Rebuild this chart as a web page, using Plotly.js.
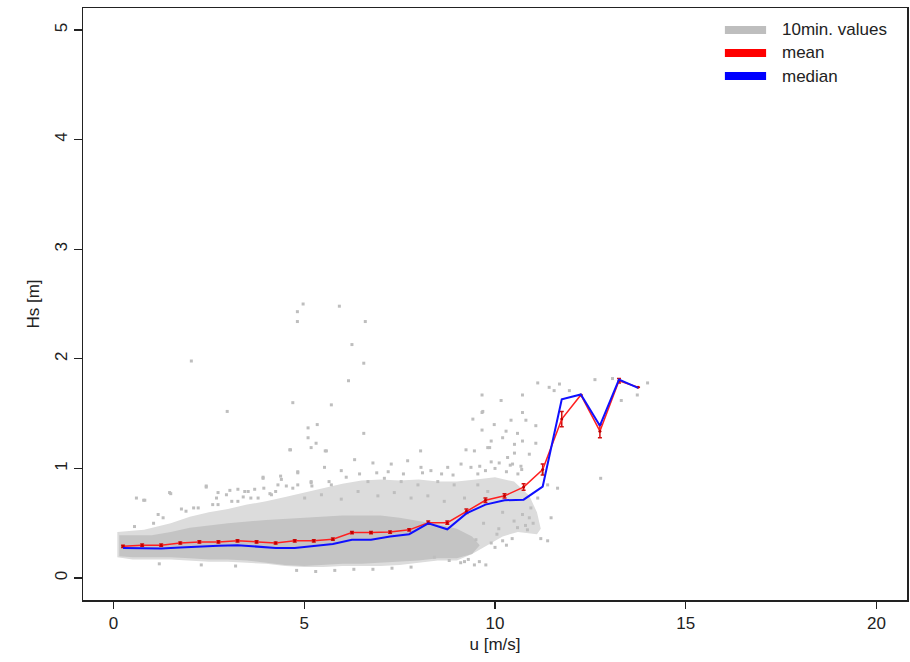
<!DOCTYPE html>
<html>
<head>
<meta charset="utf-8">
<script src="https://cdn.plot.ly/plotly-3.0.1.min.js"></script>
<style>html,body{margin:0;padding:0;background:#fff;}#chart{width:910px;height:662px;}</style>
</head>
<body>
<div id="chart"></div>
<script>
// Bin centres of wind speed (m/s)
const binU = [0.25,0.75,1.25,1.75,2.25,2.75,3.25,3.75,4.25,4.75,5.25,5.75,6.25,6.75,7.25,7.75,8.25,8.75,9.25,9.75,10.25,10.75,11.25,11.75,12.25,12.75,13.25,13.75];
// Mean Hs per bin and its error
const meanHs = [0.29,0.30,0.30,0.32,0.33,0.33,0.34,0.33,0.32,0.34,0.34,0.355,0.415,0.415,0.42,0.44,0.505,0.505,0.61,0.71,0.75,0.83,0.99,1.45,1.67,1.34,1.80,1.74];
const meanErr = [0.01,0.01,0.01,0.01,0.01,0.01,0.01,0.01,0.01,0.01,0.01,0.01,0.01,0.01,0.01,0.01,0.015,0.015,0.02,0.02,0.02,0.03,0.05,0.07,0.0,0.06,0.02,0.0];
// Median Hs per bin
const medianHs = [0.275,0.275,0.27,0.28,0.29,0.295,0.30,0.29,0.275,0.275,0.29,0.31,0.35,0.35,0.38,0.40,0.50,0.445,0.59,0.67,0.71,0.715,0.835,1.63,1.675,1.39,1.81,1.735];

// Dense core of the 10-min cloud (outline, u / Hs)
const coreU  = [0.15,1.0,1.5,2.0,3.0,4.0,5.0,6.0,7.0,7.5,8.0,8.5,9.0,9.4,9.6,9.4,9.0,8.5,8.0,7.5,7.0,6.5,6.0,5.5,5.0,4.5,4.0,3.5,3.0,2.5,2.0,1.5,1.0,0.5,0.15];
const coreHs = [0.39,0.39,0.42,0.46,0.50,0.53,0.55,0.57,0.57,0.55,0.52,0.49,0.45,0.38,0.30,0.22,0.18,0.18,0.16,0.15,0.14,0.13,0.13,0.12,0.11,0.12,0.14,0.16,0.17,0.17,0.18,0.19,0.19,0.19,0.20];
// Less dense part of the cloud (outline)
const midU  = [0.1,0.8,1.5,2.0,2.5,3.0,3.5,4.0,4.5,5.0,5.5,6.0,6.5,7.0,7.5,8.0,8.5,9.0,9.5,10.0,10.5,10.9,11.1,11.2,11.1,10.6,10.2,9.8,9.4,9.0,8.5,8.0,7.5,7.0,6.5,6.0,5.5,5.0,4.5,4.0,3.5,3.0,2.5,2.0,1.5,1.0,0.5,0.1];
const midHs = [0.42,0.44,0.50,0.56,0.60,0.63,0.67,0.70,0.74,0.78,0.82,0.86,0.89,0.90,0.89,0.90,0.88,0.88,0.90,0.92,0.88,0.75,0.60,0.45,0.40,0.42,0.38,0.30,0.22,0.16,0.16,0.14,0.12,0.11,0.11,0.11,0.10,0.10,0.11,0.13,0.14,0.15,0.15,0.16,0.17,0.17,0.17,0.19];
// Scattered individual 10-min values
const ptU  = [4.97,4.82,4.82,5.92,6.60,6.25,6.56,6.16,4.70,5.71,5.10,5.34,5.10,5.31,6.56,5.55,8.05,9.66,9.66,9.42,9.66,9.24,2.04,2.98,5.18,5.58,4.64,9.98,9.86,
  2.43,1.50,0.79,0.60,3.92,4.31,4.38,4.83,5.18,3.94,3.53,2.96,2.70,3.26,
  11.12,11.42,11.69,11.55,11.95,12.62,13.08,13.31,13.73,14.0,12.77,10.16,10.72,10.72,9.68,10.42,10.81,11.07,10.29,10.59,10.20,9.90,10.72,10.51,11.07,9.46,9.81,10.51,10.90,10.33,10.11,10.46,10.68,11.25,11.38,11.12,11.47,11.20,11.38,11.64,10.94,10.72,10.59,10.20,9.90,9.59,9.76,
  6.32,6.80,7.28,7.71,8.06,8.32,8.76,9.11,9.37,5.97,5.53,5.18,4.83,5.71,6.67,7.10,7.54,7.98,8.50,8.93,9.55,5.45,6.41,6.93,7.36,7.80,8.24,8.67,9.20,5.01,5.97,9.81,
  8.41,8.80,9.20,9.46,1.47,0.82,2.43,4.62,3.92,2.74,3.05,3.44,3.70,4.40,4.83,4.53,1.78,2.22,1.17,2.74,3.26,3.79,4.14,
  9.55,9.75,10.0,10.3,10.6,9.6,9.9,10.4,10.7,9.7,10.1,10.5,10.9,10.3,10.0,9.5,10.8,10.2,
  0.55,1.05,1.30,1.90,2.10,2.60,3.10,3.40,3.60,4.10,4.25,4.70,5.20,5.65,6.10,6.45,6.90,7.20,7.60,8.10,8.60,8.90,
  4.8,5.3,5.8,6.3,6.8,7.3,7.8,1.2,2.3,3.2,10.05,10.45,10.85,11.0,9.3,9.1];
const ptHs = [2.50,2.43,2.34,2.48,2.34,2.13,1.96,1.80,1.60,1.58,1.37,1.40,1.28,1.23,1.32,1.16,1.16,1.67,1.51,1.45,1.35,1.17,1.98,1.52,1.19,1.16,1.17,1.40,1.19,
  0.84,0.77,0.71,0.73,0.92,0.85,0.93,0.97,0.87,0.82,0.79,0.76,0.73,0.81,
  1.78,1.74,1.77,1.71,1.71,1.81,1.82,1.62,1.67,1.78,0.91,1.62,1.67,1.51,1.52,1.44,1.44,1.39,1.34,1.32,1.28,1.25,1.25,1.22,1.23,1.16,1.19,1.14,1.13,1.10,1.05,1.04,1.02,0.96,0.85,0.73,0.55,0.36,0.34,0.82,0.64,0.58,0.46,0.34,0.32,0.15,0.12,
  1.08,1.05,1.04,1.07,1.01,0.98,1.01,1.04,1.01,0.98,1.01,0.88,0.85,0.85,0.88,0.91,0.88,0.85,0.88,0.85,0.85,0.76,0.79,0.75,0.78,0.73,0.75,0.70,0.73,0.73,0.72,0.79,
  0.19,0.16,0.15,0.12,0.78,0.71,0.83,1.17,0.91,0.78,0.80,0.79,0.81,0.90,0.96,0.84,0.63,0.64,0.58,0.67,0.70,0.73,0.76,
  0.95,0.98,1.00,0.97,0.95,1.02,1.06,1.03,0.99,0.50,0.45,0.52,0.55,0.30,0.28,0.35,0.48,0.60,
  0.47,0.50,0.55,0.61,0.64,0.67,0.70,0.74,0.73,0.77,0.79,0.82,0.84,0.88,0.92,0.95,0.96,0.97,0.95,0.96,0.95,0.94,
  0.07,0.06,0.07,0.08,0.08,0.09,0.10,0.13,0.12,0.11,0.40,0.36,0.44,0.50,0.17,0.14];

const legendLabels = ["10min. values","mean","median"];
const legendColors = ["#bebebe","#ff0000","#0000ff"];

const traces = [
  {x: midU, y: midHs, type:"scatter", mode:"lines", fill:"toself", fillcolor:"#dcdcdc", line:{width:0}, hoverinfo:"skip", showlegend:false},
  {x: coreU, y: coreHs, type:"scatter", mode:"lines", fill:"toself", fillcolor:"#c4c4c4", line:{width:0}, hoverinfo:"skip", showlegend:false},
  {x: ptU, y: ptHs, type:"scatter", mode:"markers", marker:{symbol:"square", size:3, color:"#bebebe"}, showlegend:false},
  {x: binU, y: meanHs, type:"scatter", mode:"lines+markers", line:{color:"#ff2020", width:1.5}, marker:{size:3, color:"#c00000"},
   error_y:{type:"data", array: meanErr, visible:true, color:"#d01010", thickness:1.5, width:2}, showlegend:false},
  {x: binU, y: medianHs, type:"scatter", mode:"lines", line:{color:"#1010ff", width:2}, showlegend:false}
];

const shapes = [];
const annotations = [];
const legY = [0.963, 0.924, 0.885];
for (let i = 0; i < legendLabels.length; i++) {
  shapes.push({type:"line", xref:"paper", yref:"paper", x0:0.779, x1:0.829, y0:legY[i], y1:legY[i], line:{color:legendColors[i], width:8}});
  annotations.push({xref:"paper", yref:"paper", x:0.846, y:legY[i], xanchor:"left", yanchor:"middle", text:legendLabels[i], showarrow:false,
    font:{family:"Liberation Sans, Arial, sans-serif", size:17, color:"#222"}});
}

const fontFam = "Liberation Sans, Arial, sans-serif";
const layout = {
  width:910, height:662,
  margin:{l:83, r:3, t:8, b:62},
  paper_bgcolor:"#fff", plot_bgcolor:"#fff",
  showlegend:false,
  font:{family:fontFam, size:17, color:"#222"},
  xaxis:{range:[-0.8,20.8], tickvals:[0,5,10,15,20], ticks:"outside", ticklen:7, tickcolor:"#222", tickwidth:1.2,
    showline:true, linecolor:"#222", linewidth:1.5, mirror:true, showgrid:false, zeroline:false,
    tickfont:{family:fontFam, size:17, color:"#222"},
    title:{text:"u [m/s]", font:{family:fontFam, size:17, color:"#222"}, standoff:6}},
  yaxis:{range:[-0.2,5.2], tickvals:[0,1,2,3,4,5], ticks:"outside", ticklen:8, tickcolor:"#222", tickwidth:1.2, tickangle:-90,
    showline:true, linecolor:"#222", linewidth:1.5, mirror:true, showgrid:false, zeroline:false,
    tickfont:{family:fontFam, size:17, color:"#222"},
    title:{text:"Hs [m]", font:{family:fontFam, size:17, color:"#222"}, standoff:8}},
  shapes: shapes,
  annotations: annotations
};

Plotly.newPlot("chart", traces, layout, {displayModeBar:false, staticPlot:true});
</script>
</body>
</html>
